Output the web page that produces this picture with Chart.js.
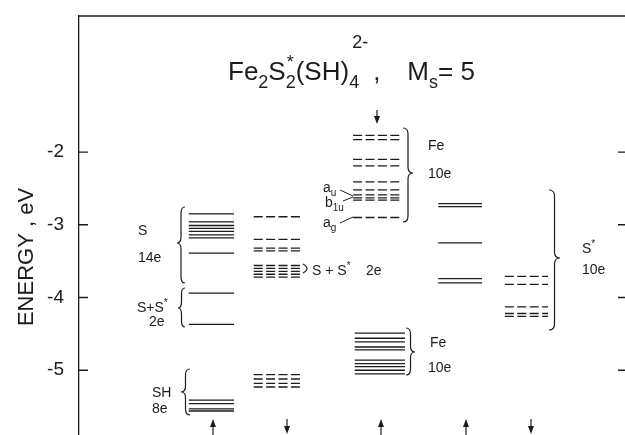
<!DOCTYPE html>
<html>
<head>
<meta charset="utf-8">
<script src="https://cdn.jsdelivr.net/npm/chart.js@4.4.1/dist/chart.umd.min.js"></script>
<style>
  html, body { margin: 0; padding: 0; background: #fff; }
  #wrap { width: 625px; height: 435px; position: relative; }
</style>
</head>
<body>
<div id="wrap"><canvas id="chart"></canvas></div>
<script>
// orbital energies in eV, one array per column
const columns = ["S, SH up", "S, SH down", "Fe down", "Fe up", "S* up", "S* down"];
const sUp = [-2.85, -2.96, -3.01, -3.05, -3.09, -3.14, -3.18, -3.39, -3.94, -4.37,
             -5.41, -5.46, -5.53, -5.56];
const sDown = [-2.89, -3.20, -3.32, -3.36, -3.56, -3.60, -3.64, -3.68, -3.72,
               -5.06, -5.12, -5.18, -5.23];
const feDown = [-1.77, -1.83, -2.10, -2.19, -2.41, -2.52, -2.59, -2.63, -2.66, -2.90];
const feUp = [-4.49, -4.56, -4.61, -4.68, -4.72, -4.86, -4.91, -4.95, -5.00, -5.05];
const sStarUp = [-2.71, -2.75, -3.25, -3.74, -3.80];
const sStarDown = [-3.71, -3.82, -4.13, -4.22, -4.26];
const yTicks = [-2, -3, -4, -5];

// where each column sits across the plot (0..100)
const layout = [[20.1, 28.4], [32.0, 40.8], [50.2, 59.2], [50.5, 59.7], [65.8, 73.8], [78.0, 85.9]];
const dashed = [false, true, true, false, false, true];
const series = [sUp, sDown, feDown, feUp, sStarUp, sStarDown];

function levels(energies, x0, x1) {
  const pts = [];
  energies.forEach(e => pts.push({ x: x0, y: e }, { x: x1, y: e }, { x: x1, y: null }));
  return pts;
}

const ink = "#1c1c1c";
const datasets = series.map((s, i) => ({
  label: columns[i],
  data: levels(s, layout[i][0], layout[i][1]),
  showLine: true,
  spanGaps: false,
  borderColor: ink,
  borderWidth: 1.3,
  borderDash: dashed[i] ? [9, 3.4] : [],
  pointRadius: 0
}));

function rich(ctx, x, y, parts, size) {
  const small = Math.round(size * 0.68);
  parts.forEach(([t, m]) => {
    if (m === "sub") { ctx.font = small + "px 'Liberation Sans'"; ctx.fillText(t, x, y + size * 0.3); }
    else if (m === "sup") { ctx.font = small + "px 'Liberation Sans'"; ctx.fillText(t, x, y - size * 0.45); }
    else if (m === "high") { ctx.font = small + "px 'Liberation Sans'"; ctx.fillText(t, x, y - size * 1.25); }
    else { ctx.font = size + "px 'Liberation Sans'"; ctx.fillText(t, x, y); }
    x += ctx.measureText(t).width;
  });
  return x;
}

function brace(ctx, xf, xt, y0, ym, y1) {
  const xm = (xf + xt) / 2, r = Math.min(6, (ym - y0) / 3, (y1 - ym) / 3);
  ctx.beginPath();
  ctx.moveTo(xf, y0);
  ctx.quadraticCurveTo(xm, y0, xm, y0 + r);
  ctx.lineTo(xm, ym - r);
  ctx.quadraticCurveTo(xm, ym, xt, ym);
  ctx.quadraticCurveTo(xm, ym, xm, ym + r);
  ctx.lineTo(xm, y1 - r);
  ctx.quadraticCurveTo(xm, y1, xf, y1);
  ctx.stroke();
}

function arrow(ctx, x, yTail, yTip) {
  const d = yTip < yTail ? 1 : -1;
  ctx.beginPath();
  ctx.moveTo(x, yTail);
  ctx.lineTo(x, yTip + d * 4);
  ctx.stroke();
  ctx.beginPath();
  ctx.moveTo(x, yTip);
  ctx.lineTo(x - 3, yTip + d * 8);
  ctx.lineTo(x + 3, yTip + d * 8);
  ctx.closePath();
  ctx.fill();
}

const annotate = {
  id: "annotate",
  afterDraw(chart) {
    const { ctx, chartArea: a, scales: { y } } = chart;
    ctx.save();
    ctx.strokeStyle = ink;
    ctx.fillStyle = ink;
    ctx.lineWidth = 1.3;

    // frame top and inward ticks
    ctx.beginPath();
    ctx.moveTo(a.left - 1, a.top);
    ctx.lineTo(a.right, a.top);
    yTicks.forEach(v => {
      const py = y.getPixelForValue(v);
      ctx.moveTo(a.left, py); ctx.lineTo(a.left + 9, py);
      ctx.moveTo(a.right - 7, py); ctx.lineTo(a.right, py);
    });
    ctx.stroke();

    // axis title
    ctx.save();
    ctx.translate(27, 257);
    ctx.rotate(-Math.PI / 2);
    ctx.textAlign = "center";
    ctx.textBaseline = "middle";
    ctx.font = "22px 'Liberation Sans'";
    ctx.fillText("ENERGY , eV", 0, 0);
    ctx.restore();

    // title
    ctx.textBaseline = "alphabetic";
    const T = 26;
    let x = rich(ctx, 228, 80, [["Fe"], ["2", "sub"], ["S"]], T);
    rich(ctx, x + 1, 80, [["*", "sup"]], T);
    x = rich(ctx, x, 80, [["2", "sub"], ["(SH)"]], T);
    rich(ctx, x, 80, [["4", "sub"]], T);
    x = rich(ctx, x + 3, 80, [["2-", "high"]], T);
    x = rich(ctx, x + 5, 80, [[","]], T);
    rich(ctx, x + 27, 80, [["M"], ["s", "sub"], ["= 5"]], T);

    // group labels
    const L = 14;
    rich(ctx, 138, 235, [["S"]], L);
    rich(ctx, 138, 262, [["14e"]], L);
    rich(ctx, 137, 312, [["S+S"], ["*", "sup"]], L);
    rich(ctx, 149, 326, [["2e"]], L);
    rich(ctx, 152, 397, [["SH"]], L);
    rich(ctx, 152, 413, [["8e"]], L);
    rich(ctx, 312, 275, [["S + S"], ["*", "sup"]], L);
    rich(ctx, 366, 275, [["2e"]], L);
    rich(ctx, 428, 150, [["Fe"]], L);
    rich(ctx, 428, 178, [["10e"]], L);
    rich(ctx, 323, 192, [["a"], ["u", "sub"]], L);
    rich(ctx, 325, 207, [["b"], ["1u", "sub"]], L);
    rich(ctx, 323, 227, [["a"], ["g", "sub"]], L);
    rich(ctx, 430, 347, [["Fe"]], L);
    rich(ctx, 428, 372, [["10e"]], L);
    rich(ctx, 582, 253, [["S"], ["*", "sup"]], L);
    rich(ctx, 582, 274, [["10e"]], L);

    // pointers to the named orbitals
    ctx.lineWidth = 1;
    ctx.beginPath();
    ctx.moveTo(340, 190); ctx.lineTo(353, 196);
    ctx.moveTo(343, 201); ctx.lineTo(353, 197);
    ctx.moveTo(340, 223); ctx.lineTo(353, 217);
    ctx.stroke();

    // braces
    ctx.lineWidth = 1.2;
    brace(ctx, 185, 177, 207, 243, 283);
    brace(ctx, 185, 178, 288, 308, 327);
    brace(ctx, 190, 181, 369, 392, 415);
    brace(ctx, 403, 413, 128, 173, 222);
    brace(ctx, 406, 415, 328, 352, 375);
    brace(ctx, 549, 560, 190, 258, 330);
    ctx.beginPath();
    ctx.moveTo(303, 264);
    ctx.quadraticCurveTo(311, 268.5, 303, 273);
    ctx.stroke();

    // spin arrows
    arrow(ctx, 213, 435, 419);
    arrow(ctx, 287, 419, 434);
    arrow(ctx, 377, 110, 124);
    arrow(ctx, 381, 435, 419);
    arrow(ctx, 466, 435, 419);
    arrow(ctx, 531, 419, 434);
    ctx.restore();
  }
};

new Chart(document.getElementById("chart"), {
  type: "scatter",
  data: { datasets },
  options: {
    responsive: true,
    maintainAspectRatio: false,
    animation: false,
    layout: { padding: { top: 16, left: 0, right: 0, bottom: 0 } },
    plugins: { legend: { display: false }, tooltip: { enabled: false } },
    scales: {
      x: { type: "linear", min: 0, max: 100, display: false },
      y: {
        min: -5.89,
        max: -0.13,
        afterFit: s => { s.width = 79; s.paddingTop = 0; s.paddingBottom = 0; },
        afterBuildTicks: s => { s.ticks = yTicks.map(v => ({ value: v })); },
        grid: { display: false },
        border: { display: true, color: ink, width: 1.3 },
        ticks: { color: ink, padding: 7, font: { family: "Liberation Sans", size: 19 } }
      }
    }
  },
  plugins: [annotate]
});
</script>
</body>
</html>
